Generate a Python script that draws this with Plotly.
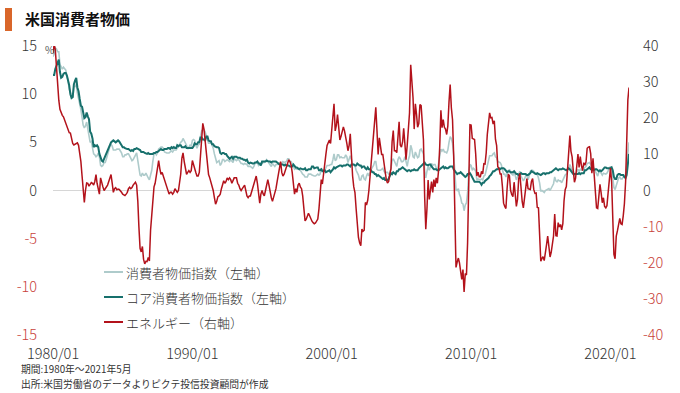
import pandas as pd
import plotly.graph_objects as go

# ---- data (YoY %, monthly 1980/01 - 2021/05) ----
cpi_headline = [
    13.9, 14.2, 14.8, 14.7, 14.4, 14.4, 13.1, 12.9, 12.6, 12.8, 12.6, 12.5,
    11.8, 11.4, 10.5, 10.0, 9.8, 9.6, 10.8, 10.8, 11.0, 10.1, 9.6, 8.9,
    8.4, 7.6, 6.8, 6.5, 6.7, 7.1, 6.4, 5.9, 5.0, 5.1, 4.6, 3.8,
    3.7, 3.5, 3.6, 3.9, 3.5, 2.6, 2.5, 2.6, 2.9, 2.9, 3.3, 3.8,
    4.2, 4.6, 4.8, 4.6, 4.2, 4.2, 4.2, 4.3, 4.3, 4.3, 4.1, 3.9,
    3.5, 3.5, 3.7, 3.7, 3.8, 3.8, 3.6, 3.3, 3.1, 3.2, 3.5, 3.8,
    3.9, 3.1, 2.2, 1.6, 1.5, 1.8, 1.6, 1.6, 1.8, 1.5, 1.3, 1.1,
    1.5, 2.1, 3.0, 3.8, 3.9, 3.7, 3.9, 4.3, 4.4, 4.5, 4.5, 4.4,
    4.0, 3.9, 3.9, 3.9, 3.9, 4.0, 4.1, 4.0, 4.2, 4.2, 4.2, 4.4,
    4.7, 4.8, 5.0, 5.1, 5.4, 5.2, 5.0, 4.7, 4.3, 4.5, 4.7, 4.6,
    5.2, 5.3, 5.2, 4.7, 4.4, 4.7, 4.8, 5.6, 6.2, 6.3, 6.3, 6.1,
    5.7, 5.3, 4.9, 4.9, 5.0, 4.7, 4.4, 3.8, 3.4, 2.9, 3.0, 3.1,
    2.6, 2.8, 3.2, 3.2, 3.0, 3.1, 3.2, 3.1, 3.0, 3.2, 3.0, 2.9,
    3.3, 3.2, 3.1, 3.2, 3.2, 3.0, 2.8, 2.8, 2.7, 2.8, 2.7, 2.7,
    2.5, 2.5, 2.5, 2.4, 2.3, 2.5, 2.8, 2.9, 3.0, 2.6, 2.7, 2.7,
    2.8, 2.9, 2.9, 3.1, 3.2, 3.0, 2.8, 2.6, 2.5, 2.8, 2.6, 2.5,
    2.7, 2.7, 2.8, 2.9, 2.9, 2.8, 3.0, 2.9, 3.0, 3.0, 3.3, 3.3,
    3.0, 3.0, 2.8, 2.5, 2.2, 2.3, 2.2, 2.2, 2.2, 2.1, 1.8, 1.7,
    1.6, 1.4, 1.4, 1.4, 1.7, 1.7, 1.7, 1.6, 1.5, 1.5, 1.5, 1.6,
    1.7, 1.6, 1.7, 2.3, 2.1, 2.0, 2.1, 2.3, 2.6, 2.6, 2.6, 2.7,
    2.7, 3.2, 3.8, 3.1, 3.2, 3.7, 3.7, 3.4, 3.5, 3.4, 3.4, 3.4,
    3.7, 3.5, 2.9, 3.3, 3.6, 3.2, 2.7, 2.7, 2.6, 2.1, 1.9, 1.6,
    1.1, 1.1, 1.5, 1.6, 1.2, 1.1, 1.5, 1.8, 1.5, 2.0, 2.2, 2.4,
    2.6, 3.0, 3.0, 2.2, 2.1, 2.1, 2.1, 2.2, 2.3, 2.0, 1.8, 1.9,
    1.9, 1.7, 1.7, 2.3, 3.1, 3.3, 3.0, 2.7, 2.5, 3.2, 3.5, 3.3,
    3.0, 3.0, 3.1, 3.5, 2.8, 2.5, 3.2, 3.6, 4.7, 4.3, 3.5, 3.4,
    4.0, 3.6, 3.4, 3.5, 4.2, 4.3, 4.1, 3.8, 2.1, 1.3, 2.0, 2.5,
    2.1, 2.4, 2.8, 2.6, 2.7, 2.7, 2.4, 2.0, 2.8, 3.5, 4.3, 4.1,
    4.3, 4.0, 4.0, 3.9, 4.2, 5.0, 5.6, 5.4, 4.9, 3.7, 1.1, 0.1,
    0.0, 0.2, -0.4, -0.7, -1.3, -1.4, -2.1, -1.5, -1.3, -0.2, 1.8, 2.7,
    2.6, 2.1, 2.3, 2.2, 2.0, 1.1, 1.2, 1.1, 1.1, 1.2, 1.1, 1.5,
    1.6, 2.1, 2.7, 3.2, 3.6, 3.6, 3.6, 3.8, 3.9, 3.5, 3.4, 3.0,
    2.9, 2.9, 2.7, 2.3, 1.7, 1.7, 1.4, 1.7, 2.0, 2.2, 1.8, 1.7,
    1.6, 2.0, 1.5, 1.1, 1.4, 1.8, 2.0, 1.5, 1.2, 1.0, 1.2, 1.5,
    1.6, 1.1, 1.5, 2.0, 2.1, 2.1, 2.0, 1.7, 1.7, 1.7, 1.3, 0.8,
    -0.1, 0.0, -0.1, -0.2, 0.0, 0.1, 0.2, 0.2, 0.0, 0.2, 0.5, 0.7,
    1.4, 1.0, 0.9, 1.1, 1.0, 1.0, 0.8, 1.1, 1.5, 1.6, 1.7, 2.1,
    2.5, 2.7, 2.4, 2.2, 1.9, 1.6, 1.7, 1.9, 2.2, 2.0, 2.2, 2.1,
    2.1, 2.2, 2.4, 2.5, 2.8, 2.9, 2.9, 2.7, 2.3, 2.5, 2.2, 1.9,
    1.6, 1.5, 1.9, 2.0, 1.8, 1.6, 1.8, 1.7, 1.7, 1.8, 2.1, 2.3,
    2.5, 2.3, 1.5, 0.3, 0.1, 0.6, 1.0, 1.3, 1.4, 1.2, 1.2, 1.4,
    1.4, 1.7, 2.6, 4.2, 5.0,
]

cpi_core = [
    12.0, 12.0, 12.6, 13.0, 13.3, 13.6, 12.3, 11.7, 11.8, 12.1, 12.2, 12.2,
    11.9, 11.5, 10.9, 10.0, 9.6, 9.7, 11.0, 11.4, 11.7, 10.7, 10.3, 9.5,
    8.8, 8.7, 8.1, 7.5, 7.6, 8.1, 7.7, 7.4, 6.1, 5.9, 5.4, 4.5,
    4.7, 4.6, 4.7, 4.5, 3.8, 3.3, 3.1, 3.0, 3.3, 3.6, 4.0, 4.1,
    4.5, 4.8, 5.0, 5.1, 5.2, 5.1, 5.0, 5.1, 5.2, 5.1, 4.8, 4.7,
    4.5, 4.5, 4.4, 4.3, 4.3, 4.3, 4.2, 4.1, 4.2, 4.1, 4.3, 4.3,
    4.4, 4.3, 4.2, 4.2, 4.0, 4.0, 4.0, 3.9, 3.8, 3.8, 3.9, 3.8,
    3.8, 3.8, 3.8, 3.9, 3.9, 4.0, 4.0, 4.1, 4.2, 4.3, 4.2, 4.2,
    4.3, 4.3, 4.3, 4.4, 4.4, 4.3, 4.5, 4.4, 4.5, 4.4, 4.4, 4.7,
    4.6, 4.7, 4.7, 4.5, 4.5, 4.5, 4.6, 4.4, 4.4, 4.4, 4.4, 4.4,
    4.4, 4.6, 4.9, 4.8, 4.8, 5.0, 5.0, 5.5, 5.5, 5.3, 5.3, 5.2,
    5.6, 5.6, 5.2, 5.1, 5.1, 4.8, 4.8, 4.6, 4.5, 4.5, 4.5, 4.4,
    3.9, 3.8, 3.9, 3.9, 3.8, 3.8, 3.6, 3.5, 3.3, 3.4, 3.5, 3.3,
    3.5, 3.5, 3.5, 3.4, 3.4, 3.4, 3.3, 3.3, 3.2, 3.2, 3.1, 3.2,
    2.9, 2.8, 2.9, 2.8, 2.8, 2.8, 2.9, 2.9, 3.0, 2.8, 2.8, 2.6,
    3.0, 3.0, 3.0, 3.0, 3.1, 3.0, 3.0, 3.0, 2.9, 3.0, 3.0, 3.0,
    3.0, 2.9, 2.8, 2.7, 2.7, 2.7, 2.7, 2.6, 2.7, 2.6, 2.6, 2.6,
    2.5, 2.5, 2.5, 2.7, 2.5, 2.4, 2.4, 2.3, 2.2, 2.3, 2.2, 2.2,
    2.2, 2.3, 2.1, 2.1, 2.2, 2.2, 2.2, 2.5, 2.5, 2.3, 2.4, 2.4,
    2.4, 2.1, 2.1, 2.2, 2.0, 2.1, 2.1, 1.9, 2.0, 2.1, 2.1, 1.9,
    2.0, 2.2, 2.4, 2.3, 2.4, 2.5, 2.5, 2.6, 2.6, 2.5, 2.6, 2.6,
    2.6, 2.7, 2.7, 2.6, 2.5, 2.7, 2.7, 2.7, 2.6, 2.6, 2.8, 2.7,
    2.6, 2.6, 2.4, 2.5, 2.5, 2.3, 2.2, 2.4, 2.2, 2.2, 2.0, 1.9,
    1.9, 1.7, 1.7, 1.5, 1.6, 1.5, 1.5, 1.3, 1.2, 1.3, 1.1, 1.1,
    1.1, 1.2, 1.6, 1.8, 1.7, 1.9, 1.8, 1.7, 2.0, 2.0, 2.2, 2.2,
    2.3, 2.4, 2.3, 2.2, 2.2, 2.0, 2.1, 2.1, 2.0, 2.1, 2.1, 2.2,
    2.1, 2.1, 2.1, 2.3, 2.4, 2.6, 2.7, 2.8, 2.9, 2.7, 2.6, 2.6,
    2.7, 2.7, 2.5, 2.3, 2.2, 2.2, 2.2, 2.1, 2.1, 2.2, 2.3, 2.4,
    2.5, 2.3, 2.4, 2.3, 2.3, 2.4, 2.5, 2.5, 2.5, 2.2, 2.0, 1.8,
    1.7, 1.8, 1.8, 1.9, 1.8, 1.7, 1.5, 1.4, 1.5, 1.7, 1.7, 1.8,
    1.6, 1.3, 1.1, 0.9, 0.9, 0.9, 0.9, 0.9, 0.8, 0.6, 0.8, 0.8,
    1.0, 1.1, 1.2, 1.3, 1.5, 1.6, 1.8, 2.0, 2.0, 2.1, 2.2, 2.2,
    2.3, 2.2, 2.3, 2.3, 2.3, 2.2, 2.1, 1.9, 2.0, 2.0, 1.9, 1.9,
    1.9, 2.0, 1.9, 1.7, 1.7, 1.6, 1.7, 1.8, 1.7, 1.7, 1.7, 1.7,
    1.6, 1.6, 1.7, 1.8, 2.0, 1.9, 1.9, 1.7, 1.7, 1.8, 1.7, 1.6,
    1.6, 1.7, 1.8, 1.8, 1.7, 1.8, 1.8, 1.8, 1.9, 1.9, 2.0, 2.1,
    2.2, 2.3, 2.2, 2.1, 2.2, 2.2, 2.2, 2.3, 2.2, 2.1, 2.1, 2.2,
    2.3, 2.2, 2.0, 1.9, 1.7, 1.7, 1.7, 1.7, 1.7, 1.8, 1.7, 1.8,
    1.8, 1.8, 2.1, 2.1, 2.2, 2.3, 2.4, 2.2, 2.2, 2.1, 2.2, 2.2,
    2.2, 2.1, 2.0, 2.1, 2.0, 2.1, 2.2, 2.4, 2.4, 2.3, 2.3, 2.3,
    2.3, 2.4, 2.1, 1.4, 1.2, 1.2, 1.6, 1.7, 1.7, 1.6, 1.6, 1.6,
    1.4, 1.3, 1.6, 3.0, 3.8,
]

energy = [
    38.0, 40.5, 39.0, 34.0, 29.0, 25.0, 22.5, 21.5, 20.8, 20.4, 19.5, 18.5,
    18.0, 17.0, 16.0, 15.9, 14.5, 13.0, 12.6, 12.8, 13.0, 13.2, 12.5, 10.4,
    8.0, 4.0, -1.0, -3.3, 0.0, 2.1, 2.0, 1.2, 1.7, 2.2, 2.0, 1.5,
    2.5, 4.4, 2.0, 0.5, -1.0, 3.5, 2.0, 1.0, 0.0, 0.5, 1.0, 1.5,
    2.5, 3.5, 4.4, 2.0, -0.5, 0.5, 0.8, 0.2, 0.4, 0.3, 0.0, -0.5,
    -1.0, -1.2, -1.4, -1.0, -0.5, 0.5, 0.9, 0.5, 0.8, 1.5, 2.0, 2.3,
    1.5, -3.0, -10.0, -16.0, -17.0, -15.5, -19.0, -20.3, -19.6, -19.7, -18.5, -19.5,
    -11.0, -6.5, -3.0, 1.0, 2.0, 4.0, 5.5, 8.3, 6.0, 4.5, 5.0, 4.0,
    3.5, 2.5, 1.0, 0.0, -1.0, -0.5, -0.5, -1.0, -0.5, 0.5, 0.0, -0.5,
    0.0, 2.0, 4.5, 9.0, 10.4, 8.0, 6.0, 4.5, 5.0, 5.5, 5.0, 5.5,
    8.3, 7.0, 5.5, 5.0, 4.0, 4.0, 5.0, 10.0, 15.0, 18.6, 17.0, 13.7,
    10.0, 6.0, 4.4, 3.5, 2.5, 1.0, 0.0, -2.0, -3.8, -3.0, -1.7, -1.5,
    -1.0, 0.5, 2.0, 2.7, 2.0, 2.5, 3.5, 3.0, 3.5, 3.0, 2.0, 3.0,
    3.5, 3.5, 3.5, 2.0, 1.5, 0.5, 0.0, 0.5, 1.0, 1.5, 0.0, -1.5,
    -2.0, -1.5, -1.5, -0.5, 0.5, 1.5, 3.0, 4.0, 2.0, -2.0, -3.5, -1.0,
    0.0, -1.0, -1.5, 0.0, 2.0, 3.0, 1.5, -1.0, -2.0, -3.0, -2.0, -0.5,
    0.5, 2.5, 4.5, 6.5, 8.0, 5.0, 4.0, 4.5, 5.5, 7.0, 8.0, 8.5,
    8.0, 7.0, 5.0, 1.5, -1.0, 0.5, -0.5, 1.5, 2.0, 1.0, 0.5, -1.5,
    -5.0, -8.4, -8.0, -7.0, -6.3, -7.0, -8.0, -8.5, -8.9, -9.2, -9.0, -8.5,
    -7.9, -5.0, 0.0, 3.0, 1.8, 5.0, 8.5, 10.0, 12.5, 13.5, 14.0, 13.0,
    17.0, 20.0, 24.0, 16.5, 18.0, 21.0, 17.0, 14.0, 15.0, 16.0, 17.6, 16.5,
    15.0, 13.0, 11.0, 12.5, 15.7, 9.0, 4.0, 1.0, -0.6, -5.0, -9.4, -13.0,
    -14.5, -15.3, -10.7, -11.3, -11.0, -3.3, -4.0, -2.7, 0.0, 4.0, 7.6, 10.5,
    15.0, 20.0, 23.0, 16.6, 10.0, 14.6, 12.0, 10.0, 10.0, 7.6, 5.0, 3.0,
    2.1, 2.5, 4.5, 6.0, 13.5, 16.6, 11.0, 11.0, 10.5, 14.5, 19.0, 12.6,
    12.0, 13.5, 17.2, 13.0, 8.5, 12.5, 17.5, 21.5, 34.8, 30.5, 25.6, 17.0,
    24.0, 21.0, 17.5, 18.5, 23.8, 23.5, 17.0, 14.0, -1.5, -10.7, -5.0, 2.9,
    -2.5, 0.5, 2.5, -0.5, 3.0, 1.0, 3.5, 2.0, 5.5, 12.0, 22.2, 17.4,
    19.6, 17.5, 17.0, 15.5, 17.9, 24.6, 29.3, 22.9, 19.6, 9.6, -11.6, -21.3,
    -19.8, -18.7, -20.0, -21.9, -24.6, -21.9, -28.1, -23.0, -23.4, -14.4, 2.6, 18.2,
    18.1, 14.4, 14.3, 14.1, 10.1, 4.0, 5.1, 3.8, 3.8, 5.3, 4.6, 7.4,
    7.3, 10.5, 15.5, 19.2, 21.5, 20.1, 20.2, 18.4, 19.3, 14.2, 12.4, 6.6,
    6.1, 4.6, 4.6, 1.0, -3.5, -4.4, -5.0, 0.5, 4.5, 4.1, 0.0, -1.1,
    -1.7, 2.3, -1.7, -4.4, -2.5, 3.2, 4.7, -0.3, -3.1, -4.8, -2.4, 0.5,
    3.3, 0.5, 0.5, 0.3, 2.5, 3.3, 0.3, -0.8, -0.7, -4.7, -4.8, -10.6,
    -19.6, -18.8, -18.3, -19.4, -16.3, -15.0, -12.6, -15.0, -18.4, -17.1, -14.7, -12.6,
    -6.5, -12.5, -12.6, -8.9, -10.1, -9.4, -10.9, -9.2, -2.9, 0.2, 1.1, 5.4,
    10.8, 15.2, 10.9, 9.3, 5.6, 2.3, 3.4, 6.4, 10.1, 6.4, 9.4, 6.9,
    5.5, 7.7, 7.0, 7.9, 11.7, 12.0, 12.1, 10.2, 4.8, 8.9, 3.1, -0.3,
    -4.8, -5.0, -0.4, 1.7, -0.6, -3.4, -2.0, -4.4, -4.8, -4.2, -0.6, 3.4,
    6.2, 2.4, -5.7, -17.7, -18.9, -12.6, -11.2, -9.0, -7.7, -9.2, -9.4, -7.0,
    -3.6, 2.4, 13.2, 25.1, 28.5,
]

series_names = ["消費者物価指数（左軸）", "コア消費者物価指数（左軸）", "エネルギー（右軸）"]
x_tick_dates = ["1980-01-01", "1990-01-01", "2000-01-01", "2010-01-01", "2020-01-01"]
x_tick_labels = ["1980/01", "1990/01", "2000/01", "2010/01", "2020/01"]
left_ticks = [-15, -10, -5, 0, 5, 10, 15]
right_ticks = [-40, -30, -20, -10, 0, 10, 20, 30, 40]
footnote_lines = ["期間:1980年～2021年5月", "出所:米国労働省のデータよりピクテ投信投資顧問が作成"]

dates = pd.date_range("1980-01-01", periods=len(energy), freq="MS")

C_HEAD = "#aecbcb"
C_CORE = "#17706c"
C_ENERGY = "#b3121b"
C_NEG = "#c8413a"
C_TXT = "#333333"
FONT = "Noto Sans CJK JP"


def tick_text(vals):
    out = []
    for v in vals:
        if v < 0:
            out.append(f"<span style='color:{C_NEG}'>-{abs(v)}</span>")
        else:
            out.append(str(v))
    return out


fig = go.Figure()
fig.add_trace(go.Scatter(x=dates, y=cpi_headline, mode="lines", name=series_names[0],
                         line=dict(color=C_HEAD, width=1.6), yaxis="y"))
fig.add_trace(go.Scatter(x=dates, y=cpi_core, mode="lines", name=series_names[1],
                         line=dict(color=C_CORE, width=2), yaxis="y"))
fig.add_trace(go.Scatter(x=dates, y=energy, mode="lines", name=series_names[2],
                         line=dict(color=C_ENERGY, width=1.5), yaxis="y2"))

# plot-area geometry (pixels) used for placing decorations
W, H = 680, 393
L, R, T, B = 53, 51, 46, 58
pw, ph = W - L - R, H - T - B


def px(x):
    return (x - L) / pw


def py(y):
    return (H - B - y) / ph


tick_font = dict(size=14.5, color=C_TXT, family=FONT, weight=300)

fig.update_layout(
    width=W, height=H,
    margin=dict(l=L, r=R, t=T, b=B, autoexpand=False),
    paper_bgcolor="white", plot_bgcolor="white",
    showlegend=False,
    font=dict(family=FONT, size=14, color=C_TXT),
    xaxis=dict(
        type="date",
        range=[dates[0], dates[-1]],
        tickvals=x_tick_dates, ticktext=x_tick_labels,
        showgrid=False, zeroline=False, showline=False, ticks="",
        tickfont=tick_font,
        ticklabelstandoff=8,
    ),
    yaxis=dict(
        range=[-15, 15],
        tickvals=left_ticks, ticktext=tick_text(left_ticks),
        showgrid=False, zeroline=True, zerolinecolor="#d6d6d6", zerolinewidth=1,
        showline=False, ticks="",
        tickfont=tick_font,
        ticklabelstandoff=15,
    ),
    yaxis2=dict(
        range=[-40, 40], overlaying="y", side="right",
        tickvals=right_ticks, ticktext=tick_text(right_ticks),
        showgrid=False, zeroline=False, showline=False, ticks="",
        tickfont=tick_font,
        ticklabelstandoff=13,
    ),
)

shapes = [
    # title accent bar
    dict(type="rect", xref="paper", yref="paper", x0=px(5), x1=px(12), y0=py(31), y1=py(8),
         fillcolor="#d9662a", line=dict(width=0), layer="above"),
]
annotations = [
    dict(text="米国消費者物価", xref="paper", yref="paper", x=px(23), y=py(19),
         xanchor="left", yanchor="middle", showarrow=False,
         font=dict(size=15, color="#111111", family=FONT, weight="bold")),
    dict(text="%", xref="paper", yref="paper", x=px(43), y=py(49),
         xanchor="left", yanchor="middle", showarrow=False,
         font=dict(size=10, color="#555555", family=FONT)),
]
for line_text, yy in zip(footnote_lines, [369, 384]):
    annotations.append(dict(text=line_text, xref="paper", yref="paper", x=px(19), y=py(yy),
                            xanchor="left", yanchor="middle", showarrow=False,
                            font=dict(size=9.8, color=C_TXT, family=FONT)))

# manual legend
leg_colors = [C_HEAD, C_CORE, C_ENERGY]
leg_y = [272, 297, 322]
for name, col, yy in zip(series_names, leg_colors, leg_y):
    shapes.append(dict(type="line", xref="paper", yref="paper", x0=px(104), x1=px(123),
                       y0=py(yy), y1=py(yy), line=dict(color=col, width=2), layer="above"))
    annotations.append(dict(text=name, xref="paper", yref="paper", x=px(124), y=py(yy),
                            xanchor="left", yanchor="middle", showarrow=False,
                            font=dict(size=13, color=C_TXT, family=FONT, weight=300)))

fig.update_layout(shapes=shapes, annotations=annotations)
fig.write_html("out.html", config={"displayModeBar": False},
               post_script="document.body.style.margin='0';")
